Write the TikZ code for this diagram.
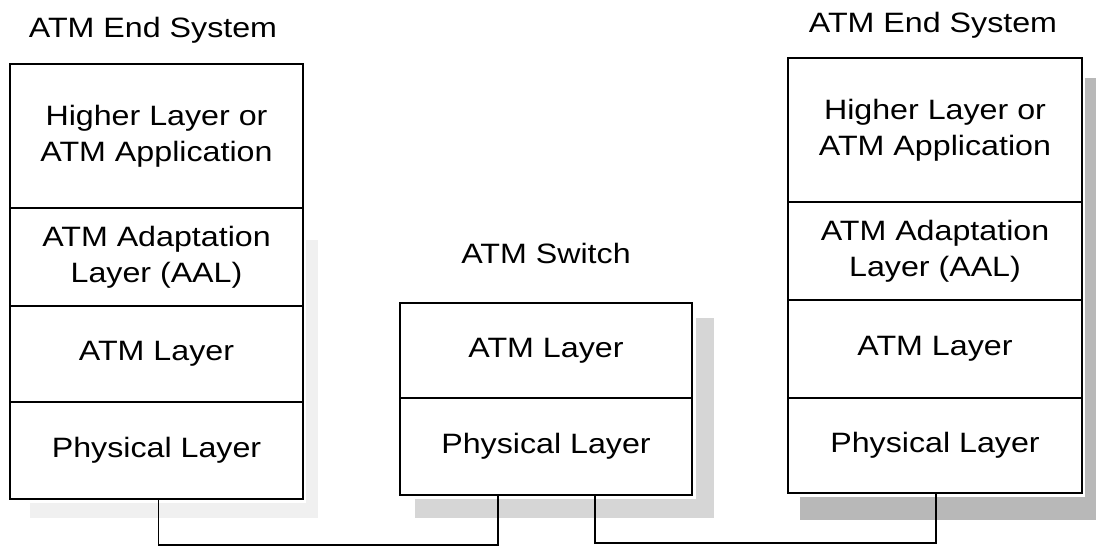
\documentclass[tikz,border=0pt]{standalone}
\usepackage{fontspec}
\setmainfont[FakeStretch=1.15]{Liberation Sans}
\usetikzlibrary{calc}
\begin{document}
\begin{tikzpicture}[x=1pt,y=-1pt,
  layerbox/.style={draw, line width=1.3pt, inner sep=0pt, outer sep=0pt,
    anchor=north west, align=center, font=\fontsize{28}{36}\selectfont},
  title/.style={anchor=base, inner sep=0pt, font=\fontsize{28}{36}\selectfont},
  link/.style={draw, line width=1.3pt},
  shadowA/.style={fill=black!28},
  shadowB/.style={fill=black!16},
  shadowC/.style={fill=black!6}]
\useasboundingbox[fill=white] (0,0) rectangle (1096,547);
% scanned drop shadows
\fill[shadowC] (306,240) rectangle (318,518);
\fill[shadowC] (30,503) rectangle (318,518);
\fill[shadowB] (696,318) rectangle (714,518);
\fill[shadowB] (415,499) rectangle (714,518);
\fill[shadowA] (1085,78) rectangle (1096,520);
\fill[shadowA] (800,497) rectangle (1096,520);
% titles
\node[title] (tL) at (153,37) {ATM End System};
\node[title] (tM) at (546,263) {ATM Switch};
\node[title] (tR) at (933,32) {ATM End System};
% left end system
\node[layerbox, minimum width=293, minimum height=144] (L1) at (10,64) {Higher Layer or\\ATM Application};
\node[layerbox, minimum width=293, minimum height=98] (L2) at (10,208) {ATM Adaptation\\Layer (AAL)};
\node[layerbox, minimum width=293, minimum height=96] (L3) at (10,306) {ATM Layer};
\node[layerbox, minimum width=293, minimum height=97] (L4) at (10,402) {Physical Layer};
% switch
\node[layerbox, minimum width=292, minimum height=95] (M1) at (400,303) {ATM Layer};
\node[layerbox, minimum width=292, minimum height=97] (M2) at (400,398) {Physical Layer};
% right end system
\node[layerbox, minimum width=294, minimum height=144] (R1) at (788,58) {Higher Layer or\\ATM Application};
\node[layerbox, minimum width=294, minimum height=98] (R2) at (788,202) {ATM Adaptation\\Layer (AAL)};
\node[layerbox, minimum width=294, minimum height=98] (R3) at (788,300) {ATM Layer};
\node[layerbox, minimum width=294, minimum height=95] (R4) at (788,398) {Physical Layer};
% physical links
\coordinate (m1) at ($(M2.south west)+(98,0)$);
\coordinate (m2) at ($(M2.south west)+(195,0)$);
\draw[link] ($(L4.south)+(2,0)$) |- ($(m1)+(0,50)$) -- (m1);
\draw[link] (m2) |- ($(R4.south)+(1,50)$) -- ($(R4.south)+(1,0)$);
\end{tikzpicture}
\end{document}
